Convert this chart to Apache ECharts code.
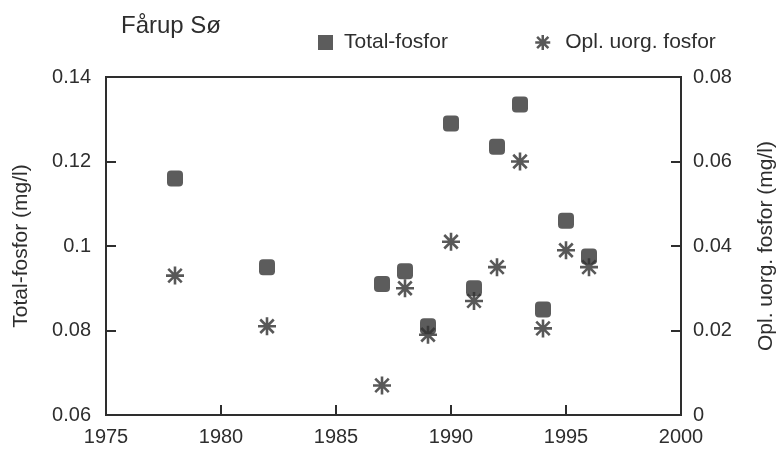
<!DOCTYPE html>
<html><head><meta charset="utf-8">
<script src="https://cdn.jsdelivr.net/npm/echarts@6/dist/echarts.min.js"></script>
<style>html,body{margin:0;padding:0;background:#fff}#c{width:779px;height:457px}</style>
</head><body><div id="c"></div>
<script>
var years = [1978, 1982, 1987, 1988, 1989, 1990, 1991, 1992, 1993, 1994, 1995, 1996];
var totalFosfor = [0.116, 0.095, 0.091, 0.094, 0.081, 0.129, 0.090, 0.1235, 0.1335, 0.085, 0.106, 0.0975];
var oplFosfor = [0.033, 0.021, 0.007, 0.030, 0.019, 0.041, 0.027, 0.035, 0.060, 0.0205, 0.039, 0.035];
var xTicks = [1975, 1980, 1985, 1990, 1995, 2000];

var ink = '#2e2e2e';
var font = 'Liberation Sans, Arial, sans-serif';
var star = 'path://M0,-10L0,10M-10,0L10,0M-7.5,-7.5L7.5,7.5M-7.5,7.5L7.5,-7.5';

var chart = echarts.init(document.getElementById('c'));
chart.setOption({
  backgroundColor: '#ffffff',
  animation: false,
  textStyle: {fontFamily: font, color: ink},
  title: {text: 'Fårup Sø', left: 121, top: 14, padding: 0, textStyle: {fontFamily: font, fontSize: 24, fontWeight: 'normal', color: ink}},
  legend: [
    {data: [{name: 'Total-fosfor', icon: 'rect'}], left: 318, top: 32, padding: 0, itemWidth: 15, itemHeight: 15,
     textStyle: {fontFamily: font, fontSize: 21, color: ink, padding: [0, 0, 0, 6]}},
    {data: [{name: 'Opl. uorg. fosfor', icon: star, itemStyle: {color: 'transparent', borderColor: ink, borderWidth: 2.5}}],
     left: 534, top: 32, padding: 0, itemWidth: 15, itemHeight: 15,
     textStyle: {fontFamily: font, fontSize: 21, color: ink, padding: [0, 0, 0, 10]}}
  ],
  grid: {left: 106, right: 98, top: 77, bottom: 42, outerBoundsMode: 'none', show: true, borderColor: ink, borderWidth: 2, backgroundColor: 'transparent'},
  xAxis: {
    type: 'value', min: 1975, max: 2000, interval: 5,
    axisLine: {lineStyle: {color: ink, width: 2}},
    axisTick: {inside: true, length: 10, lineStyle: {color: ink, width: 2}},
    axisLabel: {fontSize: 20, color: ink, margin: 12, fontFamily: font,
      formatter: function (v) { return xTicks.indexOf(v) >= 0 ? String(v) : ''; }},
    splitLine: {show: false}
  },
  yAxis: [
    {type: 'value', min: 0.06, max: 0.14, interval: 0.02, position: 'left',
     name: 'Total-fosfor (mg/l)', nameLocation: 'middle', nameGap: 74, nameRotate: 90,
     nameTextStyle: {fontSize: 21, color: ink, fontFamily: font},
     axisLine: {show: true, lineStyle: {color: ink, width: 2}},
     axisTick: {show: true, inside: true, length: 10, lineStyle: {color: ink, width: 2}},
     axisLabel: {fontSize: 20, color: ink, margin: 15, fontFamily: font,
       formatter: function (v) { return String(parseFloat(v.toFixed(2))); }},
     splitLine: {show: false}},
    {type: 'value', min: 0, max: 0.08, interval: 0.02, position: 'right',
     name: 'Opl. uorg. fosfor (mg/l)', nameLocation: 'middle', nameGap: 75, nameRotate: 90,
     nameTextStyle: {fontSize: 21, color: ink, fontFamily: font},
     axisLine: {show: true, lineStyle: {color: ink, width: 2}},
     axisTick: {show: true, inside: true, length: 10, lineStyle: {color: ink, width: 2}},
     axisLabel: {fontSize: 20, color: ink, margin: 12, fontFamily: font,
       formatter: function (v) { return String(parseFloat(v.toFixed(2))); }},
     splitLine: {show: false}}
  ],
  series: [
    {name: 'Opl. uorg. fosfor', type: 'scatter', yAxisIndex: 1, symbol: star, symbolSize: 18,
     itemStyle: {color: 'transparent', borderColor: ink, borderWidth: 2.6},
     data: years.map(function (y, i) { return [y, oplFosfor[i]]; })},
    {name: 'Total-fosfor', type: 'scatter', yAxisIndex: 0, symbol: 'roundRect', symbolSize: 16,
     itemStyle: {color: '#333333'},
     data: years.map(function (y, i) { return [y, totalFosfor[i]]; })}
  ]
});
</script></body></html>
